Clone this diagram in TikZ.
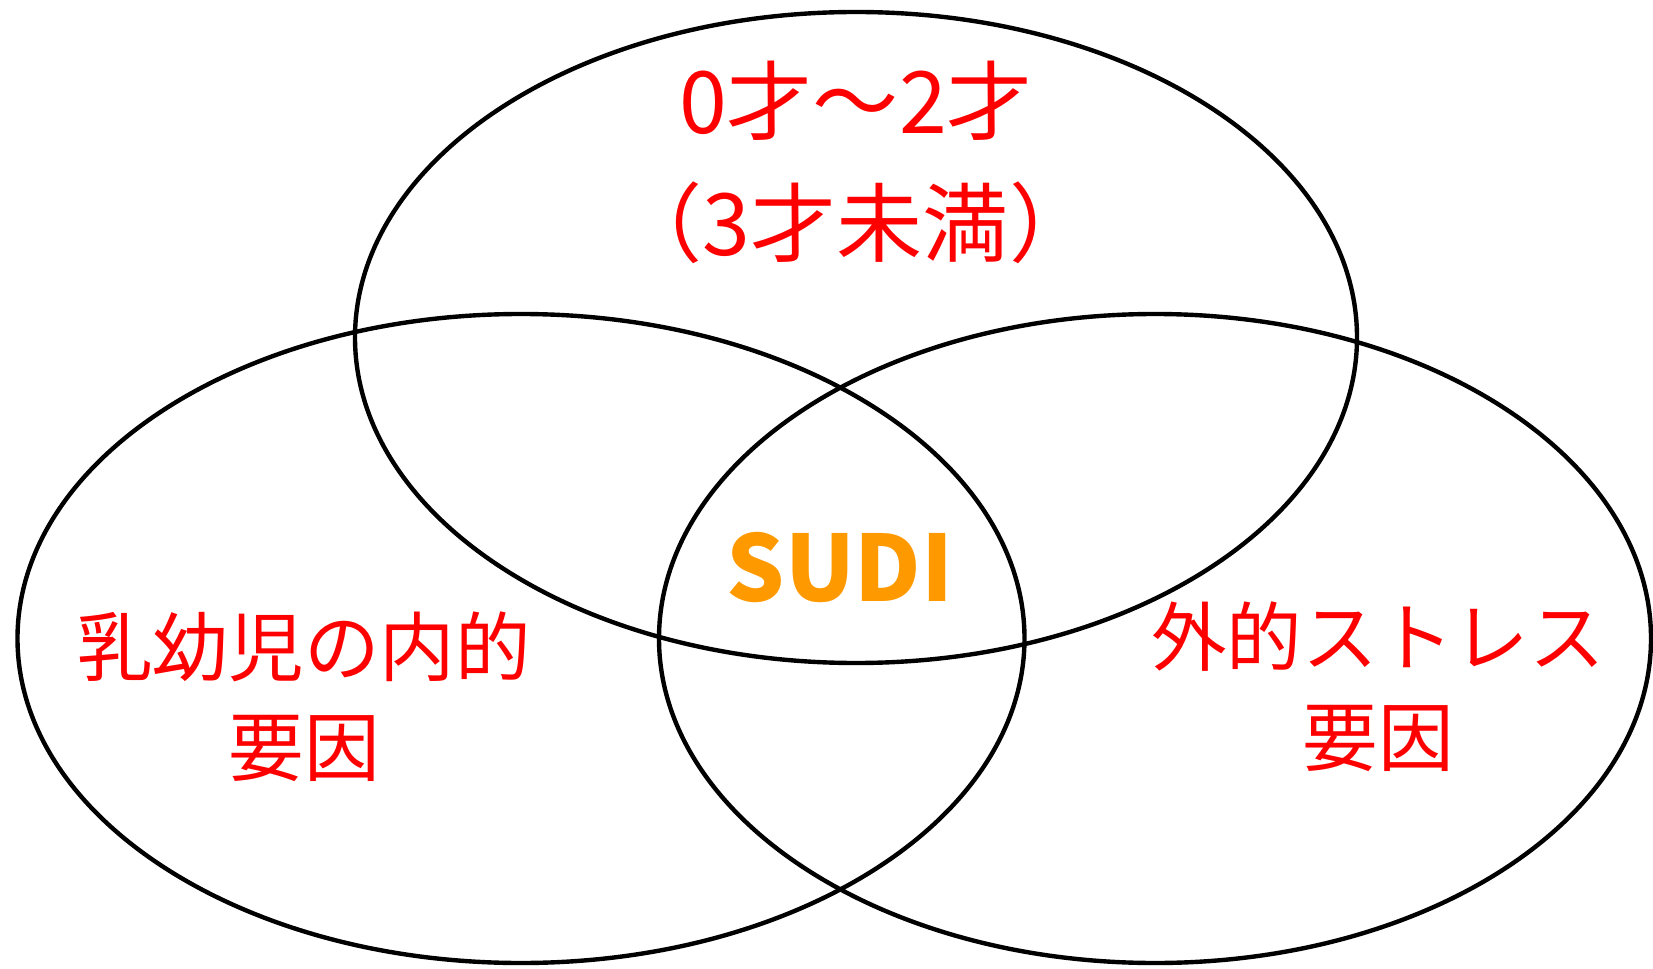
\documentclass[tikz,border=0pt]{standalone}
\usepackage{fontspec}
\newfontfamily\cjk{Noto Sans CJK JP}
\usetikzlibrary{shapes.geometric}
\definecolor{sudiorange}{HTML}{FF9900}

\begin{document}
\begin{tikzpicture}
\tikzset{setoval/.style={ellipse, draw=black, line width=2.5pt, inner sep=0pt}, labeltext/.style={align=center, text=red, font=\cjk\fontsize{43}{57}\selectfont}}
\useasboundingbox (0,0) rectangle (33.06,19.36);
% the three sets
\node[setoval, minimum width=20.04cm, minimum height=13.02cm] (agebg) at (17.12,12.61) {};
\node[setoval, minimum width=20.14cm, minimum height=12.98cm] (infantbg) at (10.42,6.59) {};
\node[setoval, minimum width=19.84cm, minimum height=12.98cm] (stressbg) at (23.10,6.59) {};
% labels
\node[labeltext, font=\cjk\fontsize{49}{69}\selectfont] (age) at (17.12,16.11) {0才～2才\\（3才未満）};
\node[labeltext] (infant) at (6.08,5.42) {乳幼児の内的\\要因};
\node[labeltext] (stress) at (27.56,5.63) {外的ストレス\\要因};
\node[text=sudiorange, font=\cjk\bfseries\fontsize{52}{56}\selectfont] (sudi) at (16.8,8.0) {SUDI};
\end{tikzpicture}
\end{document}
